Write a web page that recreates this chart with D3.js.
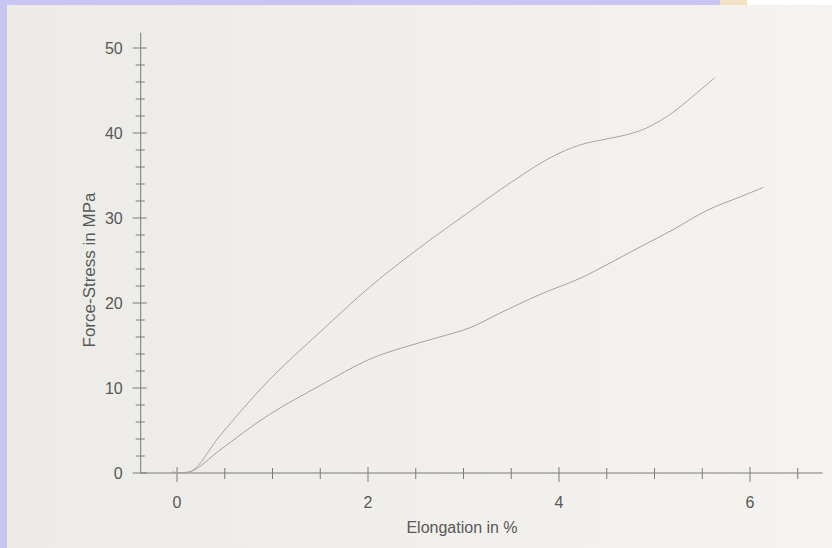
<!DOCTYPE html>
<html>
<head>
<meta charset="utf-8">
<script src="https://cdn.jsdelivr.net/npm/d3@7"></script>
<style>
  html, body { margin: 0; padding: 0; background: #c8c6f0; }
  svg { display: block; }
  text { font-family: "Liberation Sans", Arial, sans-serif; fill: #585858; }
</style>
</head>
<body>
<svg id="chart" width="832" height="548"></svg>
<script>
// tensile test readings, elongation in %, stress in MPa
const upperElongation = [-0.05, 0.15, 0.45, 0.97, 1.5, 2.02, 2.54, 3.07, 3.46, 3.91, 4.22, 4.5, 4.71, 4.92, 5.19, 5.4, 5.63];
const upperStress     = [0.1, 0.2, 4.4, 11.0, 16.6, 21.9, 26.5, 30.8, 33.9, 37.1, 38.6, 39.3, 39.8, 40.6, 42.4, 44.3, 46.5];

const lowerElongation = [-0.05, 0.15, 0.45, 0.97, 1.5, 2.02, 2.35, 2.72, 3.07, 3.38, 3.8, 4.22, 4.5, 4.85, 5.19, 5.55, 5.9, 6.14];
const lowerStress     = [0.1, 0.2, 2.7, 6.9, 10.3, 13.4, 14.7, 15.9, 17.1, 18.8, 21.0, 22.9, 24.5, 26.6, 28.6, 30.9, 32.5, 33.6];

const xLabelTicks = [0, 2, 4, 6];
const xMinorTicks = [0.5, 1, 1.5, 2.5, 3, 3.5, 4.5, 5, 5.5, 6.5];
const yLabelTicks = [0, 10, 20, 30, 40, 50];
const yMinorTicks = [2, 4, 6, 8, 12, 14, 16, 18, 22, 24, 26, 28, 32, 34, 36, 38, 42, 44, 46, 48];

const svg = d3.select("#chart");

// paper of the photographed print
const grad = svg.append("defs").append("linearGradient")
    .attr("id", "paper")
    .attr("x1", "0%").attr("x2", "100%");
grad.append("stop").attr("offset", "0%").attr("stop-color", "#ecebe8");
grad.append("stop").attr("offset", "100%").attr("stop-color", "#f5f3f0");

svg.append("rect").attr("x", 720).attr("y", 0).attr("width", 27).attr("height", 6).attr("fill", "#f3e3c4");
svg.append("rect").attr("x", 747).attr("y", 0).attr("width", 85).attr("height", 6).attr("fill", "#ffffff");
svg.append("rect")
    .attr("x", 7).attr("y", 5)
    .attr("width", 825).attr("height", 543)
    .attr("fill", "url(#paper)");

const x = d3.scaleLinear().domain([0, 6]).range([177, 750]);
const y = d3.scaleLinear().domain([0, 50]).range([473, 48]);

const axisColor = "#7a7a7a";

// y axis
const yAxis = svg.append("g")
    .attr("transform", `translate(${x(-0.38)},0)`);
yAxis.append("line")
    .attr("y1", y(0)).attr("y2", y(51.8))
    .attr("stroke", axisColor);
yAxis.selectAll(".major")
    .data(yLabelTicks)
    .enter().append("line")
    .attr("class", "major")
    .attr("x1", -8).attr("x2", 6)
    .attr("y1", d => y(d)).attr("y2", d => y(d))
    .attr("stroke", axisColor);
yAxis.selectAll(".minor")
    .data(yMinorTicks)
    .enter().append("line")
    .attr("class", "minor")
    .attr("x1", -5).attr("x2", 4)
    .attr("y1", d => y(d)).attr("y2", d => y(d))
    .attr("stroke", axisColor);
yAxis.selectAll("text")
    .data(yLabelTicks)
    .enter().append("text")
    .attr("x", -18)
    .attr("y", d => y(d))
    .attr("dy", "0.36em")
    .attr("text-anchor", "end")
    .attr("font-size", 16)
    .text(d => d);

// x axis
const xAxis = svg.append("g")
    .attr("transform", `translate(0,${y(0)})`);
xAxis.append("line")
    .attr("x1", x(-0.38)).attr("x2", x(6.76))
    .attr("stroke", axisColor);
xAxis.selectAll(".major")
    .data(xLabelTicks)
    .enter().append("line")
    .attr("class", "major")
    .attr("y1", -6).attr("y2", 9)
    .attr("x1", d => x(d)).attr("x2", d => x(d))
    .attr("stroke", axisColor);
xAxis.selectAll(".minor")
    .data(xMinorTicks)
    .enter().append("line")
    .attr("class", "minor")
    .attr("y1", -5).attr("y2", 6)
    .attr("x1", d => x(d)).attr("x2", d => x(d))
    .attr("stroke", axisColor);
xAxis.selectAll("text")
    .data(xLabelTicks)
    .enter().append("text")
    .attr("x", d => x(d))
    .attr("y", 35)
    .attr("text-anchor", "middle")
    .attr("font-size", 16)
    .text(d => d);

// axis titles
svg.append("text")
    .attr("x", 462).attr("y", 533)
    .attr("text-anchor", "middle")
    .attr("font-size", 16)
    .text("Elongation in %");

svg.append("text")
    .attr("transform", "translate(95,270) rotate(-90)")
    .attr("text-anchor", "middle")
    .attr("font-size", 17)
    .text("Force-Stress in MPa");

// curves
const line = d3.line()
    .x(d => x(d[0]))
    .y(d => y(d[1]))
    .curve(d3.curveCatmullRom.alpha(0.5));

const curves = [
    { data: d3.zip(upperElongation, upperStress), color: "#a8a5a5" },
    { data: d3.zip(lowerElongation, lowerStress), color: "#aa9f9f" }
];

svg.selectAll(".curve")
    .data(curves)
    .enter().append("path")
    .attr("class", "curve")
    .attr("d", d => line(d.data))
    .attr("fill", "none")
    .attr("stroke", d => d.color)
    .attr("stroke-width", 1);
</script>
</body>
</html>
